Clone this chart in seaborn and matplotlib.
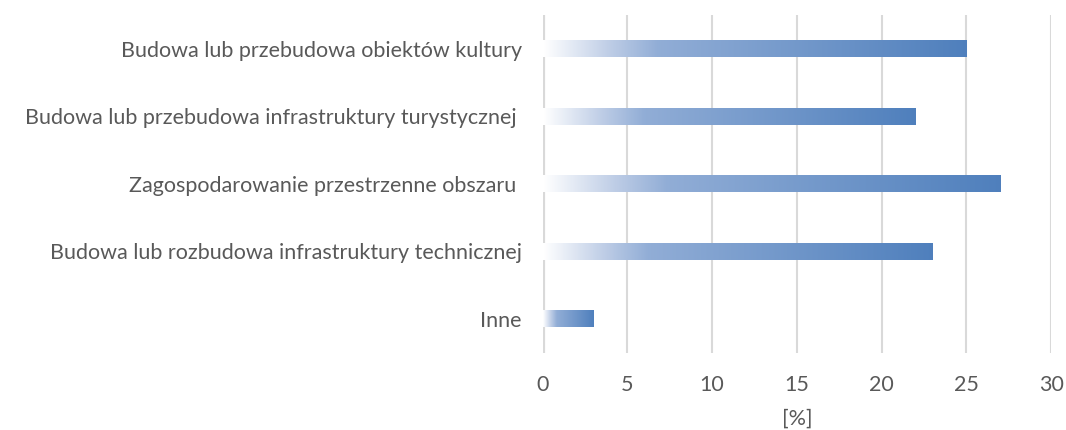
import matplotlib
matplotlib.use("Agg")
import matplotlib.pyplot as plt
import numpy as np
import pandas as pd
import seaborn as sns
from matplotlib.colors import LinearSegmentedColormap

categories = [
    "Budowa lub przebudowa obiektów kultury",
    "Budowa lub przebudowa infrastruktury turystycznej ",
    "Zagospodarowanie przestrzenne obszaru ",
    "Budowa lub rozbudowa infrastruktury technicznej",
    "Inne",
]
values = [25, 22, 27, 23, 3]
x_ticks = [0, 5, 10, 15, 20, 25, 30]

text_color = "#595959"
grid_color = "#D9D9D9"

# white -> blue fill along each bar, quicker at the start (Excel-like gradient)
bar_cmap = LinearSegmentedColormap.from_list(
    "bar_grad",
    [
        (0.0, (1.0, 1.0, 1.0)),
        (0.16, (0.74, 0.80, 0.90)),
        (0.27, (0.57, 0.68, 0.84)),
        (1.0, (0.31, 0.50, 0.74)),
    ],
)

sns.set_theme(style="white")
plt.rcParams["font.family"] = ["Lato", "DejaVu Sans"]

df = pd.DataFrame({"category": categories, "value": values})

fig, ax = plt.subplots(figsize=(10.66, 4.30), dpi=100)
fig.subplots_adjust(left=0.509, right=0.986, top=0.965, bottom=0.18)

sns.barplot(data=df, y="category", x="value", orient="h", width=0.25,
            color="#4F81BD", ax=ax)

grad = np.linspace(0, 1, 256).reshape(1, -1)
for patch in ax.patches:
    x0, y0 = patch.get_x(), patch.get_y()
    w, h = patch.get_width(), patch.get_height()
    im = ax.imshow(grad, cmap=bar_cmap, aspect="auto",
                   extent=(x0, x0 + w, y0 + h, y0), zorder=3,
                   interpolation="bilinear")
    im.set_clip_path(patch)
    patch.set_alpha(0)

ax.set_xlim(0, 30)
ax.set_ylim(4.5, -0.5)
ax.set_xticks(x_ticks)
ax.set_xticklabels([str(t) for t in x_ticks])

for t in x_ticks[1:]:
    ax.axvline(t, color=grid_color, lw=1.5, zorder=1)
ax.axvline(0, color=grid_color, lw=3, zorder=2)

for side in ["top", "right", "bottom", "left"]:
    ax.spines[side].set_visible(False)

ax.tick_params(axis="both", length=0, labelsize=15.5, colors=text_color)
ax.tick_params(axis="y", pad=15)
ax.tick_params(axis="x", pad=16)
ax.set_ylabel("")
ax.set_xlabel("[%]", fontsize=15.5, color=text_color, labelpad=10)

fig.savefig("out.png", dpi=100)
